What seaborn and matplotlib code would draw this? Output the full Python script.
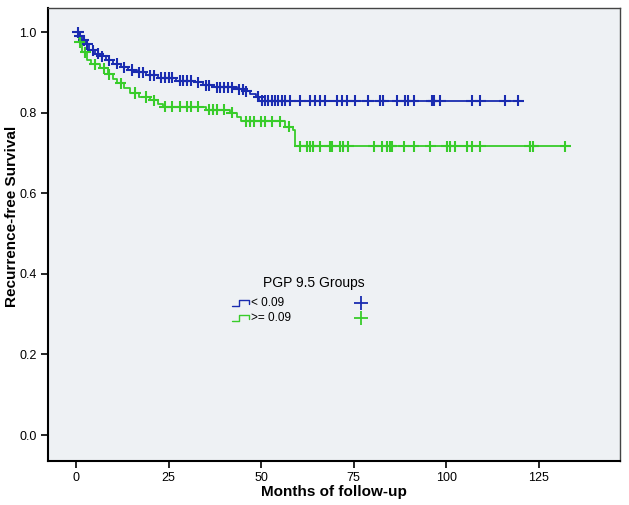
import numpy as np
import pandas as pd
import matplotlib
matplotlib.use("Agg")
import matplotlib.pyplot as plt
import seaborn as sns

# ── Data ───────────────────────────────────────────────────
groups = ["< 0.09", ">= 0.09"]

# Kaplan-Meier steps: time of event (months) and survival after the step
low_times = [0, 0.8, 1.5, 2.5, 3.5, 5, 6.5, 8, 10, 12, 14, 16.5, 19, 22, 27,
             32, 34.3, 37, 43.5, 46, 47, 48.5, 49.5, 120.5]
low_surv = [1.0, 0.99, 0.98, 0.97, 0.955, 0.947, 0.94, 0.93, 0.922, 0.913,
            0.906, 0.9, 0.893, 0.887, 0.88, 0.876, 0.868, 0.863, 0.858, 0.853,
            0.847, 0.84, 0.83, 0.83]

high_times = [0, 0.7, 1.5, 3, 4, 6.5, 8.5, 10, 11, 13, 14.6, 17, 20, 22, 23.5,
              35, 41.5, 43.5, 44.5, 56.5, 58.5, 59.2, 132.5]
high_surv = [1.0, 0.975, 0.95, 0.93, 0.92, 0.91, 0.895, 0.883, 0.873, 0.862,
             0.849, 0.839, 0.831, 0.823, 0.815, 0.808, 0.8, 0.79, 0.779,
             0.765, 0.757, 0.717, 0.717]

# censored cases (months)
low_cens = [0.5, 1, 2, 3, 4.5, 6, 7, 9, 11, 13, 15, 17, 18, 20, 21, 23, 24, 25,
            26, 28, 29, 30, 31, 33, 35, 36, 38, 39, 40, 41, 42, 44, 45, 46,
            49.2, 50.3, 51.1, 51.9, 53, 53.8, 54.6, 55.7, 56.5, 57.8, 60.5,
            63.2, 64.6, 65.9, 67.3, 70.5, 71.9, 73.2, 75.4, 78.9, 82.2, 83,
            86.8, 88.9, 89.8, 91.2, 96.1, 96.6, 98.4, 107, 109.2, 115.9, 119.5]
high_cens = [1, 2.5, 5, 7.5, 9, 12, 16, 19, 21, 24, 26, 28, 30, 31, 33, 36,
             37, 38, 40, 42, 46, 47, 48, 50, 51, 53, 55, 57.5, 60.5, 62.4,
             63.2, 64.1, 65.9, 68.6, 69.1, 71.4, 72.2, 73.6, 80.4, 82.6, 84,
             84.9, 85.3, 88.5, 91.2, 95.7, 100.2, 101.1, 102.4, 105.6, 106.9,
             109.2, 122.7, 123.6, 132.2]

x_ticks = [0, 25, 50, 75, 100, 125]
y_ticks = [0.0, 0.2, 0.4, 0.6, 0.8, 1.0]

BLUE = "#1a2cb0"
GREEN = "#38cc2a"


def step_value(times, surv, t):
    idx = np.searchsorted(times, t, side="right") - 1
    return np.asarray(surv)[idx]


curves = pd.concat([
    pd.DataFrame({"month": low_times, "surv": low_surv, "group": groups[0]}),
    pd.DataFrame({"month": high_times, "surv": high_surv, "group": groups[1]}),
])
cens = pd.concat([
    pd.DataFrame({"month": low_cens,
                  "surv": step_value(low_times, low_surv, low_cens),
                  "group": groups[0]}),
    pd.DataFrame({"month": high_cens,
                  "surv": step_value(high_times, high_surv, high_cens),
                  "group": groups[1]}),
])

# ── Styling ────────────────────────────────────────────────
sns.set_style("ticks")
plt.rcParams["font.family"] = ["Liberation Sans", "DejaVu Sans"]
plt.rcParams.update({
    "text.color": "black",
    "axes.labelcolor": "black",
    "xtick.color": "black",
    "ytick.color": "black",
})
palette = {groups[0]: BLUE, groups[1]: GREEN}

fig = plt.figure(figsize=(6.29, 5.05), dpi=100)
ax = fig.add_axes([0.0763, 0.0871, 0.9094, 0.8970])
ax.set_facecolor("#eef1f4")

sns.lineplot(data=curves, x="month", y="surv", hue="group", palette=palette,
             drawstyle="steps-post", estimator=None, sort=False, lw=1.3,
             legend=False, ax=ax)
sns.scatterplot(data=cens, x="month", y="surv", hue="group", palette=palette,
                marker="+", s=65, linewidth=1.5, legend=False, ax=ax, zorder=3)

ax.set_xlim(-7.6, 147)
ax.set_ylim(-0.0645, 1.06)
ax.set_xticks(x_ticks)
ax.set_yticks(y_ticks)
ax.set_yticklabels([f"{v:.1f}" for v in y_ticks])
ax.tick_params(direction="out", length=5, width=1.2, labelsize=9,
               color="black", labelcolor="black", pad=3)

for side in ["left", "bottom"]:
    ax.spines[side].set_color("black")
    ax.spines[side].set_linewidth(1.5)
for side in ["top", "right"]:
    ax.spines[side].set_visible(True)
    ax.spines[side].set_color("#444444")
    ax.spines[side].set_linewidth(1.0)

ax.set_xlabel("Months of follow-up", fontsize=11, fontweight="bold",
              labelpad=0.5, color="black")
ax.set_ylabel("Recurrence-free Survival", fontsize=11, fontweight="bold",
              color="black")
ax.yaxis.set_label_coords(-0.051, 0.54)

# ── SPSS-style legend ──────────────────────────────────────
ax.text(0.465, 0.393, "PGP 9.5 Groups", transform=ax.transAxes, ha="center",
        va="center", fontsize=10, color="black")
rows_y = [0.349, 0.316]
icon_x = np.array([0.322, 0.334, 0.334, 0.352, 0.352])
icon_y = np.array([0.0, 0.0, 1.0, 1.0, 0.35]) * 0.013 - 0.006
for g, ry in zip(groups, rows_y):
    ax.plot(icon_x, icon_y + ry, color=palette[g], lw=1.0,
            transform=ax.transAxes)
    ax.text(0.355, ry, g, transform=ax.transAxes, ha="left", va="center",
            fontsize=8.5, color="black")
    ax.plot([0.547], [ry], marker="+", ms=10, mew=1.3, color=palette[g],
            transform=ax.transAxes)

fig.savefig("out.png", dpi=100, facecolor="white")
